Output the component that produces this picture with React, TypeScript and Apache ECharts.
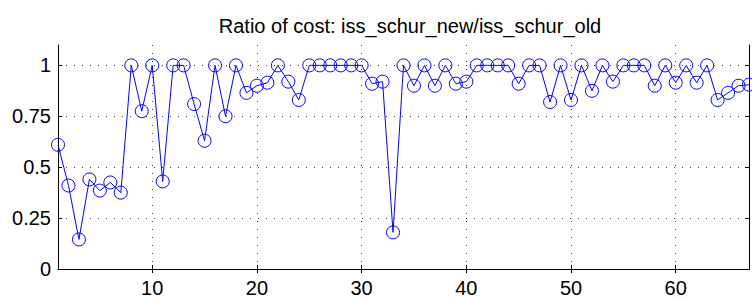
import React, { useEffect, useRef } from "react";
import * as echarts from "echarts";

const titleText = "Ratio of cost: iss_schur_new/iss_schur_old";
const ratioValues = [
  0.61, 0.41, 0.145, 0.44, 0.385, 0.425, 0.375, 1, 0.775, 1,
  0.43, 1, 1, 0.81, 0.63, 1, 0.75, 1, 0.865, 0.9,
  0.915, 1, 0.92, 0.83, 1, 1, 1, 1, 1, 1,
  0.91, 0.92, 0.18, 1, 0.9, 1, 0.9, 1, 0.91, 0.92,
  1, 1, 1, 1, 0.91, 1, 1, 0.82, 1, 0.83,
  1, 0.875, 1, 0.92, 1, 1, 1, 0.9, 1, 0.915,
  1, 0.915, 1, 0.83, 0.865, 0.9, 0.905,
];
const xTicks = [10, 20, 30, 40, 50, 60];
const yTicks = [0, 0.25, 0.5, 0.75, 1];
const yLabels = ["0", "0.25", "0.5", "0.75", "1"];

export default function App() {
  const ref = useRef<HTMLDivElement>(null);
  useEffect(() => {
    if (!ref.current) return;
    const chart = echarts.init(ref.current, null, { renderer: "svg" });
    const font = "Liberation Sans";
    const split = { show: true, lineStyle: { color: "#444", type: [1, 7] as any, width: 1 } };
    const axisLine = { show: true, lineStyle: { color: "#000", width: 1 } };
    chart.setOption({
      animation: false,
      backgroundColor: "#fff",
      title: {
        text: titleText,
        left: 405,
        textAlign: "center",
        top: 11,
        textStyle: { fontFamily: font, fontSize: 20, fontWeight: "normal", color: "#000" },
      },
      grid: { left: 58, right: 3, top: 45, bottom: 30, show: false },
      xAxis: [
        {
          type: "value",
          min: 1,
          max: 67,
          axisLine,
          axisTick: { show: true, inside: true, length: 4, customValues: xTicks, lineStyle: { color: "#000" } },
          axisLabel: {
            customValues: xTicks,
            fontFamily: font,
            fontSize: 20,
            color: "#000",
            margin: 9,
          },
          splitLine: split,
        },
        {
          type: "value",
          position: "top",
          min: 1,
          max: 67,
          axisLine,
          axisTick: { show: true, inside: true, length: 4, customValues: xTicks, lineStyle: { color: "#000" } },
          axisLabel: { show: false },
          splitLine: { show: false },
        },
      ],
      yAxis: [
        {
          type: "value",
          min: 0,
          max: 1.1,
          axisLine,
          axisTick: { show: true, inside: true, length: 4, customValues: yTicks, lineStyle: { color: "#000" } },
          axisLabel: {
            customValues: yTicks,
            formatter: (v: number) => yLabels[yTicks.indexOf(v)] ?? String(v),
            fontFamily: font,
            fontSize: 20,
            color: "#000",
            margin: 7,
          },
          splitLine: split,
        },
        {
          type: "value",
          position: "right",
          min: 0,
          max: 1.1,
          axisLine,
          axisTick: { show: true, inside: true, length: 4, customValues: yTicks, lineStyle: { color: "#000" } },
          axisLabel: { show: false },
          splitLine: { show: false },
        },
      ],
      series: [
        {
          type: "line",
          data: ratioValues.map((v, i) => [i + 1, v]),
          symbol: "circle",
          symbolSize: 13,
          lineStyle: { color: "#0000ff", width: 1 },
          itemStyle: { color: "transparent", borderColor: "#0000ff", borderWidth: 1 },
          z: 5,
        },
      ],
    });
    return () => chart.dispose();
  }, []);
  return (
    <div
      ref={ref}
      style={{ position: "absolute", left: 0, top: 0, width: 752, height: 299 }}
    />
  );
}
